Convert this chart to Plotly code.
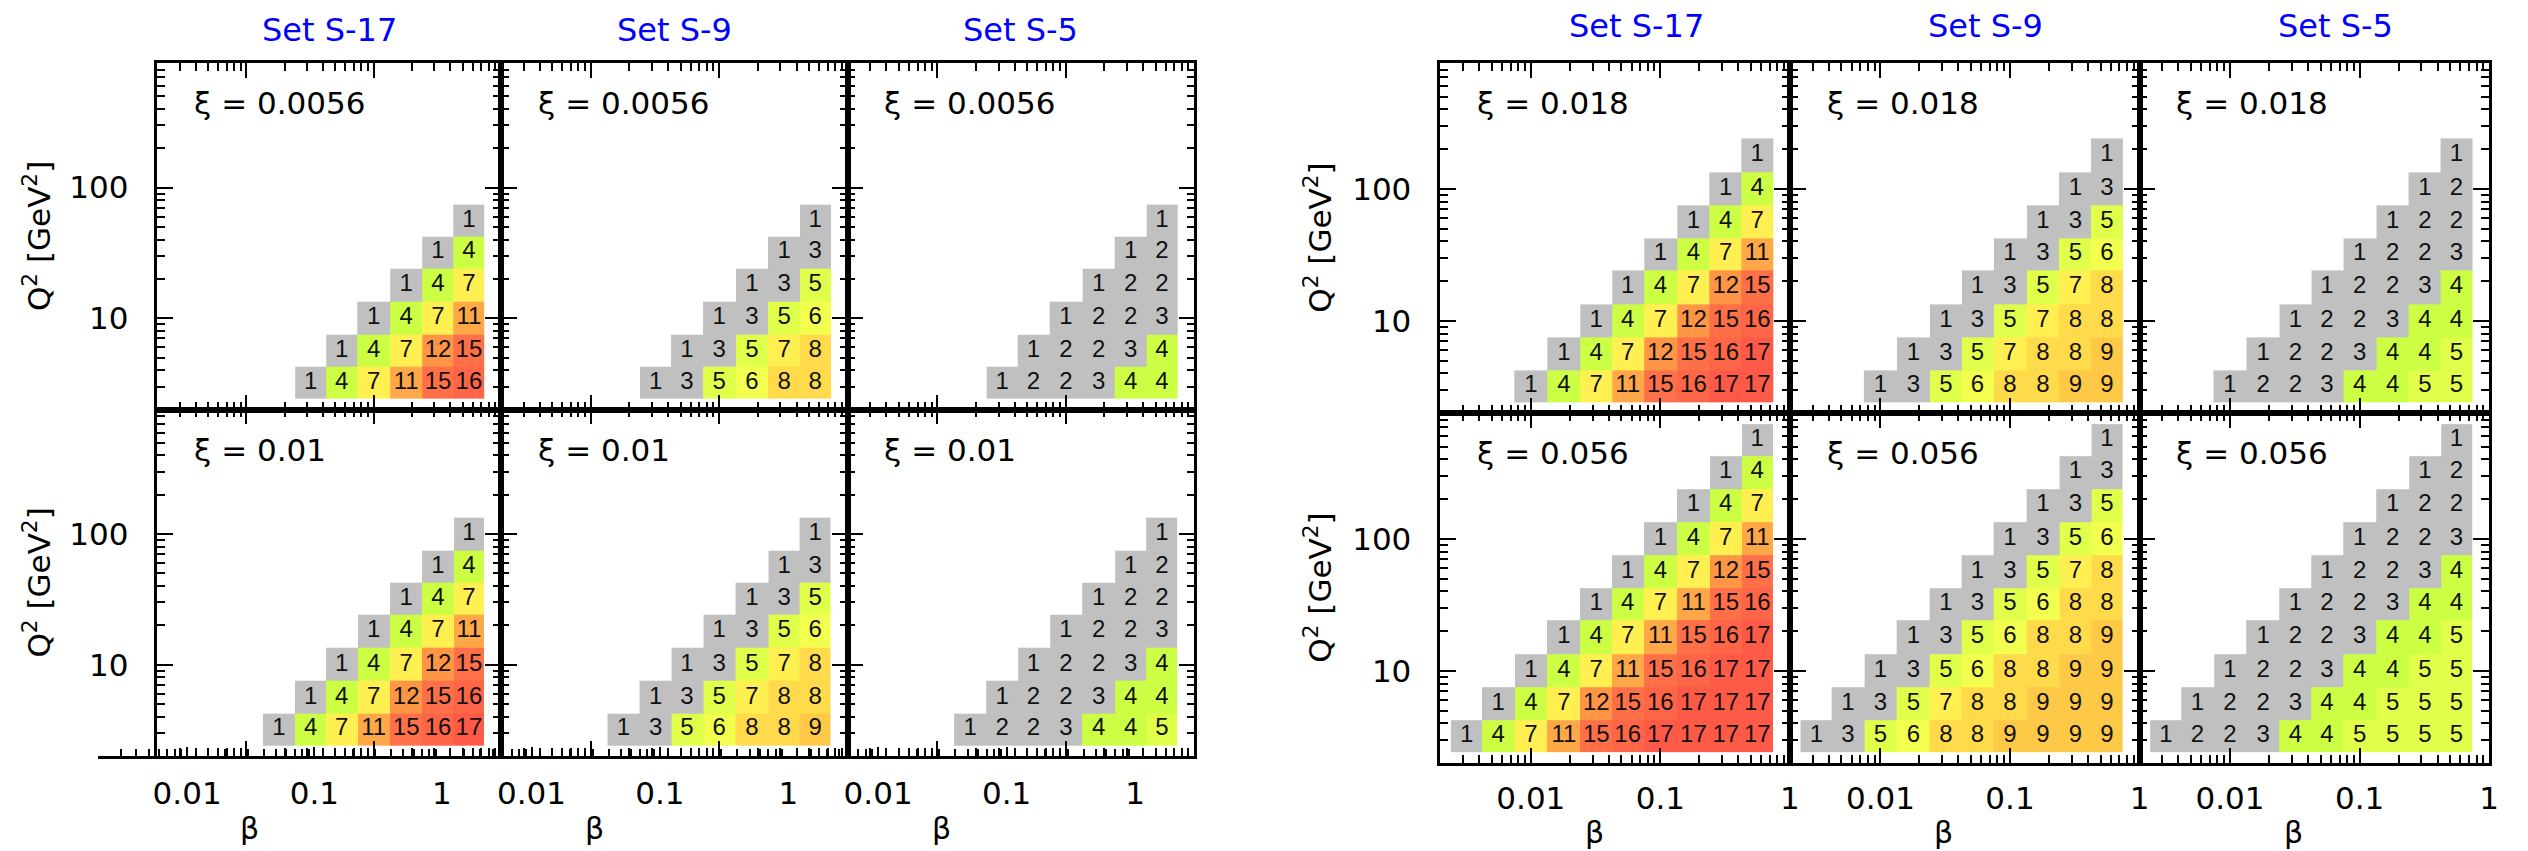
import math
import plotly.graph_objects as go

W, H = 2528, 851

# ---- data -------------------------------------------------------------
# bin centres (beta ascending, Q^2 ascending)
BETA_CENTRES = [0.0032, 0.0056, 0.01, 0.018, 0.032, 0.056, 0.1, 0.18, 0.32, 0.56]
Q2_CENTRES = [3.2, 5.6, 10, 18, 32, 56, 100, 180, 320, 560]

SETS = ["Set S-17", "Set S-9", "Set S-5"]
XI_LEFT = ["0.0056", "0.01"]
XI_RIGHT = ["0.018", "0.056"]

# counts per cell, one list per Q^2 row (lowest first), beta ascending
S17_XI_0056 = [[1, 4, 7, 11, 15, 16], [1, 4, 7, 12, 15], [1, 4, 7, 11], [1, 4, 7], [1, 4], [1]]
S9_XI_0056 = [[1, 3, 5, 6, 8, 8], [1, 3, 5, 7, 8], [1, 3, 5, 6], [1, 3, 5], [1, 3], [1]]
S5_XI_0056 = [[1, 2, 2, 3, 4, 4], [1, 2, 2, 3, 4], [1, 2, 2, 3], [1, 2, 2], [1, 2], [1]]

S17_XI_001 = [[1, 4, 7, 11, 15, 16, 17], [1, 4, 7, 12, 15, 16], [1, 4, 7, 12, 15],
              [1, 4, 7, 11], [1, 4, 7], [1, 4], [1]]
S9_XI_001 = [[1, 3, 5, 6, 8, 8, 9], [1, 3, 5, 7, 8, 8], [1, 3, 5, 7, 8],
             [1, 3, 5, 6], [1, 3, 5], [1, 3], [1]]
S5_XI_001 = [[1, 2, 2, 3, 4, 4, 5], [1, 2, 2, 3, 4, 4], [1, 2, 2, 3, 4],
             [1, 2, 2, 3], [1, 2, 2], [1, 2], [1]]

S17_XI_0018 = [[1, 4, 7, 11, 15, 16, 17, 17], [1, 4, 7, 12, 15, 16, 17], [1, 4, 7, 12, 15, 16],
               [1, 4, 7, 12, 15], [1, 4, 7, 11], [1, 4, 7], [1, 4], [1]]
S9_XI_0018 = [[1, 3, 5, 6, 8, 8, 9, 9], [1, 3, 5, 7, 8, 8, 9], [1, 3, 5, 7, 8, 8],
              [1, 3, 5, 7, 8], [1, 3, 5, 6], [1, 3, 5], [1, 3], [1]]
S5_XI_0018 = [[1, 2, 2, 3, 4, 4, 5, 5], [1, 2, 2, 3, 4, 4, 5], [1, 2, 2, 3, 4, 4],
              [1, 2, 2, 3, 4], [1, 2, 2, 3], [1, 2, 2], [1, 2], [1]]

S17_XI_0056B = [[1, 4, 7, 11, 15, 16, 17, 17, 17, 17], [1, 4, 7, 12, 15, 16, 17, 17, 17],
                [1, 4, 7, 11, 15, 16, 17, 17], [1, 4, 7, 11, 15, 16, 17],
                [1, 4, 7, 11, 15, 16], [1, 4, 7, 12, 15], [1, 4, 7, 11], [1, 4, 7], [1, 4], [1]]
S9_XI_0056B = [[1, 3, 5, 6, 8, 8, 9, 9, 9, 9], [1, 3, 5, 7, 8, 8, 9, 9, 9],
               [1, 3, 5, 6, 8, 8, 9, 9], [1, 3, 5, 6, 8, 8, 9], [1, 3, 5, 6, 8, 8],
               [1, 3, 5, 7, 8], [1, 3, 5, 6], [1, 3, 5], [1, 3], [1]]
S5_XI_0056B = [[1, 2, 2, 3, 4, 4, 5, 5, 5, 5], [1, 2, 2, 3, 4, 4, 5, 5, 5],
               [1, 2, 2, 3, 4, 4, 5, 5], [1, 2, 2, 3, 4, 4, 5], [1, 2, 2, 3, 4, 4],
               [1, 2, 2, 3, 4], [1, 2, 2, 3], [1, 2, 2], [1, 2], [1]]

# colour for each count value (1-3 grey)
COUNT_COLOURS = {1: "#c0c0c0", 3: "#c0c0c0", 4: "#ccff44", 5: "#dfff4a", 6: "#f2ff4e",
                 7: "#ffef50", 8: "#ffda4a", 9: "#ffc948", 11: "#ffa848", 12: "#ff9646",
                 15: "#ff7048", 16: "#ff6648", 17: "#ff5a48"}

# ---- geometry (pixels) -------------------------------------------------
L_COLS = [(158, 503), (503, 851), (851, 1199)]
L_ROWS = [(63, 409.5), (409.5, 756)]
R_COLS = [(1446, 1797), (1797, 2148), (2148, 2499)]
R_ROWS = [(63, 413), (413, 763)]
LABEL_SHIFT = 59.5   # offset of the beta labels axis in the left block

X_RANGE = [math.log10(0.002), 0.0]
Y_RANGE = [math.log10(2), math.log10(900)]

FONT = "DejaVu Sans"
CELL_FONT = "Liberation Sans"
LW = 2.5


def fx(x):
    return x / W


def fy(y):
    return 1 - y / H


def edges(centres):
    out = []
    for i in range(len(centres) + 1):
        if i == 0:
            out.append(centres[0] / math.sqrt(centres[1] / centres[0]))
        elif i == len(centres):
            out.append(centres[-1] * math.sqrt(centres[-1] / centres[-2]))
        else:
            out.append(math.sqrt(centres[i - 1] * centres[i]))
    return out


vals = sorted(COUNT_COLOURS)
colorscale = [[(v - 1) / 16, COUNT_COLOURS[v]] for v in vals]

minor_x = [m * d for d in (0.001, 0.01, 0.1) for m in range(2, 10) if m * d > 0.0021]
minor_y = [m * d for d in (1, 10, 100) for m in range(2, 10)]

panels = [
    # (block, row, col, xi text, data)
    ("L", 0, 0, XI_LEFT[0], S17_XI_0056), ("L", 0, 1, XI_LEFT[0], S9_XI_0056),
    ("L", 0, 2, XI_LEFT[0], S5_XI_0056),
    ("L", 1, 0, XI_LEFT[1], S17_XI_001), ("L", 1, 1, XI_LEFT[1], S9_XI_001),
    ("L", 1, 2, XI_LEFT[1], S5_XI_001),
    ("R", 0, 0, XI_RIGHT[0], S17_XI_0018), ("R", 0, 1, XI_RIGHT[0], S9_XI_0018),
    ("R", 0, 2, XI_RIGHT[0], S5_XI_0018),
    ("R", 1, 0, XI_RIGHT[1], S17_XI_0056B), ("R", 1, 1, XI_RIGHT[1], S9_XI_0056B),
    ("R", 1, 2, XI_RIGHT[1], S5_XI_0056B),
]

fig = go.Figure()
layout = dict(width=W, height=H, margin=dict(l=0, r=0, t=0, b=0),
              paper_bgcolor="white", plot_bgcolor="rgba(0,0,0,0)",
              showlegend=False, annotations=[])
ann = layout["annotations"]

tick_font = dict(family=FONT, size=31, color="black")

for i, (block, r, c, xi, rows) in enumerate(panels, start=1):
    cols = L_COLS if block == "L" else R_COLS
    rws = L_ROWS if block == "L" else R_ROWS
    x0, x1 = cols[c]
    y0, y1 = rws[r]
    n = len(rows)
    beta_c = BETA_CENTRES[-n:]
    q2_c = Q2_CENTRES[:n]
    z = []
    tx, ty, tt = [], [], []
    for k, row in enumerate(rows):
        z.append([None] * k + row)
        for j, v in enumerate(row):
            tx.append(beta_c[k + j])
            ty.append(q2_c[k])
            tt.append(str(v))
    xn = "x" if i == 1 else f"x{i}"
    yn = "y" if i == 1 else f"y{i}"
    fig.add_trace(go.Heatmap(
        x=edges(beta_c), y=edges(q2_c), z=z,
        colorscale=colorscale, zmin=1, zmax=17, showscale=False,
        hoverinfo="skip", xaxis=xn, yaxis=yn))
    fig.add_trace(go.Scatter(
        x=tx, y=ty, text=tt, mode="text", textposition="middle center",
        textfont=dict(family=CELL_FONT, size=24, color="#111111"),
        hoverinfo="skip", showlegend=False, xaxis=xn, yaxis=yn))

    bottom_labels = (block == "R" and r == 1)
    layout["xaxis" if i == 1 else f"xaxis{i}"] = dict(
        type="log", range=X_RANGE, domain=[fx(x0), fx(x1)], anchor=yn,
        showline=True, linewidth=LW, linecolor="black", mirror="allticks",
        ticks="inside", ticklen=15, tickwidth=2, tickcolor="black",
        tickvals=[0.01, 0.1, 1], ticktext=["0.01", "0.1", "1"],
        showticklabels=bottom_labels, tickfont=tick_font, ticklabelstandoff=6,
        minor=dict(ticks="inside", ticklen=8, tickwidth=2, tickcolor="black",
                   tickvals=minor_x, showgrid=False),
        showgrid=False, zeroline=False, fixedrange=True)
    layout["yaxis" if i == 1 else f"yaxis{i}"] = dict(
        type="log", range=Y_RANGE, domain=[fy(y1), fy(y0)], anchor=xn,
        showline=True, linewidth=LW, linecolor="black", mirror="allticks",
        ticks="inside", ticklen=16, tickwidth=2, tickcolor="black",
        tickvals=[10, 100], ticktext=["10", "100"],
        showticklabels=(c == 0), tickfont=tick_font, ticklabelstandoff=20,
        minor=dict(ticks="inside", ticklen=8, tickwidth=2, tickcolor="black",
                   tickvals=minor_y, showgrid=False),
        showgrid=False, zeroline=False, fixedrange=True)

    # xi label inside the panel
    ann.append(dict(text=f"ξ = {xi}", xref="paper", yref="paper",
                    x=fx(x0 + 35), y=fy(y0 + 40), xanchor="left", yanchor="middle",
                    showarrow=False, font=dict(family=FONT, size=31, color="black")))
    # set title above the top row
    if r == 0:
        stx = (x0 + x1) / 2 + (0 if block == "L" else 21)
        sty = 30 if block == "L" else 26
        ann.append(dict(text=SETS[c], xref="paper", yref="paper", x=fx(stx), y=fy(sty),
                        xanchor="center", yanchor="middle", showarrow=False,
                        font=dict(family=FONT, size=32, color="#0000ff")))
    # beta title below the bottom row
    if r == 1:
        bx = (x0 + x1) / 2 - (80 if block == "L" else 21)
        by = 828 if block == "L" else 832
        ann.append(dict(text="β", xref="paper", yref="paper", x=fx(bx), y=fy(by),
                        xanchor="center", yanchor="middle", showarrow=False,
                        font=dict(family=FONT, size=30, color="black")))
    # Q^2 title on the left of each row
    if c == 0:
        qx = 37 if block == "L" else 1323
        ann.append(dict(text="Q<sup>2</sup> [GeV<sup>2</sup>]", xref="paper", yref="paper",
                        x=fx(qx), y=fy((y0 + y1) / 2), xanchor="center", yanchor="middle",
                        textangle=-90, showarrow=False,
                        font=dict(family=FONT, size=31, color="black")))

# beta label axes of the left block, drawn offset from the frames on a hidden y axis
layout["yaxis16"] = dict(type="log", range=Y_RANGE,
                         domain=[fy(L_ROWS[1][1]), fy(L_ROWS[1][0])],
                         anchor="x13", visible=False, fixedrange=True)
for j, (x0, x1) in enumerate(L_COLS):
    idx = 13 + j
    fig.add_trace(go.Scatter(x=[], y=[], xaxis=f"x{idx}", yaxis="y16",
                             hoverinfo="skip", showlegend=False))
    layout[f"xaxis{idx}"] = dict(
        type="log", range=X_RANGE, domain=[fx(x0 - LABEL_SHIFT), fx(x1 - LABEL_SHIFT)],
        anchor="y16", side="bottom", showline=True, linewidth=LW, linecolor="black",
        ticks="inside", ticklen=9, tickwidth=2, tickcolor="black",
        tickvals=[0.01, 0.1, 1], ticktext=["0.01", "0.1", "1"],
        showticklabels=True, tickfont=tick_font, ticklabelstandoff=8,
        minor=dict(ticks="inside", ticklen=7, tickwidth=2, tickcolor="black",
                   tickvals=minor_x, showgrid=False),
        showgrid=False, zeroline=False, fixedrange=True)

fig.update_layout(**layout)
fig.write_html("out.html")
